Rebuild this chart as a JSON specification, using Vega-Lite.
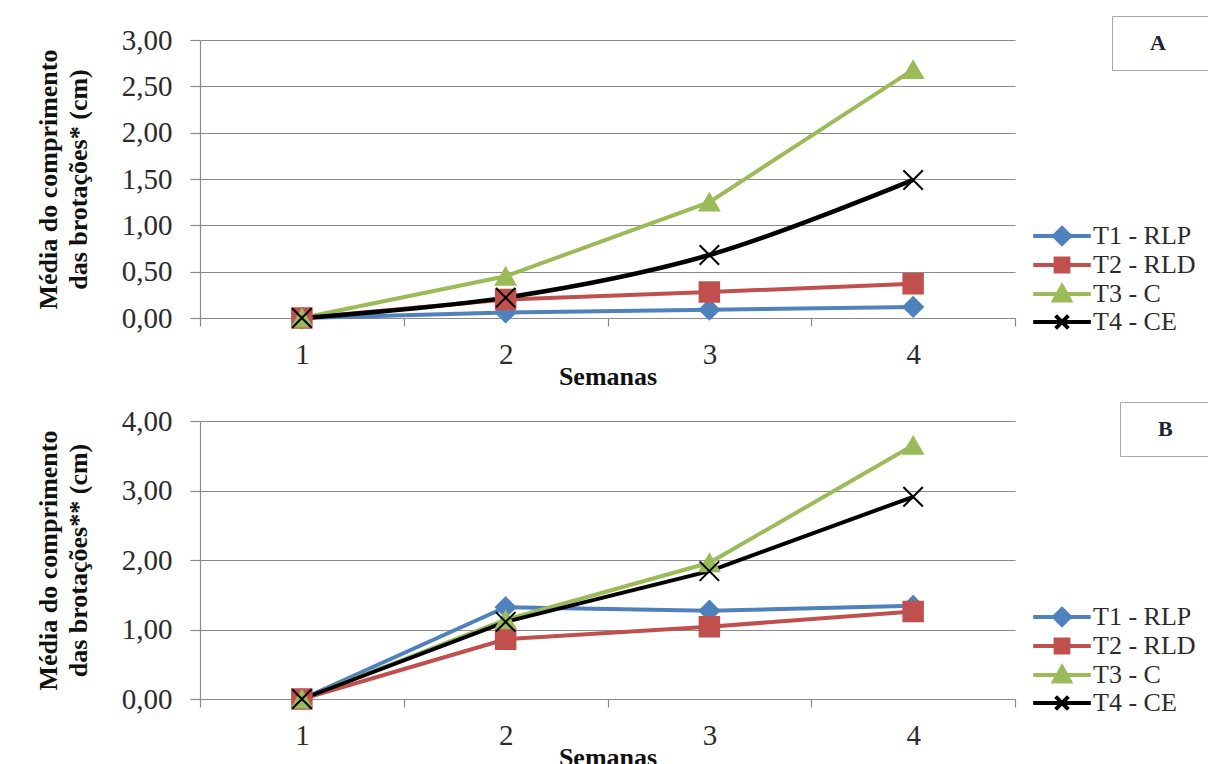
{
  "$schema": "https://vega.github.io/schema/vega-lite/v6.json",
  "background": "white",
  "padding": {"left": 35, "top": 15, "right": 0, "bottom": 0},
  "spacing": 12,
  "datasets": {
    "medias": [
      {"painel": "A", "semana": "1", "serie": "T1 - RLP", "valor": 0},
      {"painel": "A", "semana": "2", "serie": "T1 - RLP", "valor": 0.06},
      {"painel": "A", "semana": "3", "serie": "T1 - RLP", "valor": 0.09},
      {"painel": "A", "semana": "4", "serie": "T1 - RLP", "valor": 0.12},
      {"painel": "A", "semana": "1", "serie": "T2 - RLD", "valor": 0},
      {"painel": "A", "semana": "2", "serie": "T2 - RLD", "valor": 0.20},
      {"painel": "A", "semana": "3", "serie": "T2 - RLD", "valor": 0.28},
      {"painel": "A", "semana": "4", "serie": "T2 - RLD", "valor": 0.37},
      {"painel": "A", "semana": "1", "serie": "T3 - C", "valor": 0},
      {"painel": "A", "semana": "2", "serie": "T3 - C", "valor": 0.45},
      {"painel": "A", "semana": "3", "serie": "T3 - C", "valor": 1.25},
      {"painel": "A", "semana": "4", "serie": "T3 - C", "valor": 2.68},
      {"painel": "A", "semana": "1", "serie": "T4 - CE", "valor": 0},
      {"painel": "A", "semana": "2", "serie": "T4 - CE", "valor": 0.22},
      {"painel": "A", "semana": "3", "serie": "T4 - CE", "valor": 0.68},
      {"painel": "A", "semana": "4", "serie": "T4 - CE", "valor": 1.49},
      {"painel": "B", "semana": "1", "serie": "T1 - RLP", "valor": 0},
      {"painel": "B", "semana": "2", "serie": "T1 - RLP", "valor": 1.32},
      {"painel": "B", "semana": "3", "serie": "T1 - RLP", "valor": 1.27},
      {"painel": "B", "semana": "4", "serie": "T1 - RLP", "valor": 1.34},
      {"painel": "B", "semana": "1", "serie": "T2 - RLD", "valor": 0},
      {"painel": "B", "semana": "2", "serie": "T2 - RLD", "valor": 0.86},
      {"painel": "B", "semana": "3", "serie": "T2 - RLD", "valor": 1.04},
      {"painel": "B", "semana": "4", "serie": "T2 - RLD", "valor": 1.26},
      {"painel": "B", "semana": "1", "serie": "T3 - C", "valor": 0},
      {"painel": "B", "semana": "2", "serie": "T3 - C", "valor": 1.14},
      {"painel": "B", "semana": "3", "serie": "T3 - C", "valor": 1.96},
      {"painel": "B", "semana": "4", "serie": "T3 - C", "valor": 3.65},
      {"painel": "B", "semana": "1", "serie": "T4 - CE", "valor": 0},
      {"painel": "B", "semana": "2", "serie": "T4 - CE", "valor": 1.11},
      {"painel": "B", "semana": "3", "serie": "T4 - CE", "valor": 1.84},
      {"painel": "B", "semana": "4", "serie": "T4 - CE", "valor": 2.91}
    ]
  },
  "config": {
    "font": "Liberation Serif",
    "view": {"stroke": null},
    "style": {
      "guide-label": {"font": "Liberation Serif"},
      "guide-title": {"font": "Liberation Serif"}
    },
    "axis": {
      "labelFont": "Liberation Serif", "labelFontSize": 29, "labelColor": "#2b2b2b",
      "titleFont": "Liberation Serif", "titleFontWeight": "bold", "titleFontSize": 26, "titleColor": "#111",
      "domainColor": "#8a8a8a", "tickColor": "#8a8a8a", "gridColor": "#8a8a8a", "gridWidth": 1.2, "domainWidth": 1.2, "tickWidth": 1.2
    },
    "legend": {
      "orient": "none", "legendX": 849, "legendY": 183,
      "labelFont": "Liberation Serif", "labelFontSize": 26, "labelColor": "#2b2b2b",
      "symbolSize": 256, "labelOffset": 18, "rowPadding": -2, "padding": 0,
      "symbolStrokeWidth": 4, "symbolOpacity": 1, "title": null
    }
  },
  "vconcat": [
    {
      "width": 815, "height": 278,
      "data": {"name": "medias"},
      "transform": [{"filter": "datum.painel === 'A'"}],
      "encoding": {
        "x": {"field": "semana", "type": "ordinal",
          "scale": {"type": "band", "paddingInner": 0, "paddingOuter": 0},
          "axis": {"labelAngle": 0, "tickBand": "extent", "tickSize": 8, "labelPadding": 14, "grid": false, "title": "Semanas", "titlePadding": -6,
            "labelFont": "Liberation Serif", "titleFont": "Liberation Serif"}},
        "y": {"field": "valor", "type": "quantitative",
          "scale": {"domain": [0, 3], "nice": false},
          "axis": {"values": [0, 0.5, 1, 1.5, 2, 2.5, 3], "labelExpr": "replace(format(datum.value, '.2f'), '.', ',')",
            "tickSize": 10, "labelPadding": 18, "grid": true, "titlePadding": 30, "titleLineHeight": 30,
            "labelFont": "Liberation Serif", "titleFont": "Liberation Serif",
            "title": ["Média do comprimento", "das  brotações* (cm)"]}}
      },
      "resolve": {"scale": {"shape": "independent", "fill": "independent", "stroke": "independent", "size": "independent"}},
      "layer": [
        {
          "transform": [{"filter": "datum.serie !== 'T4 - CE'"}],
          "mark": {"type": "line", "strokeWidth": 4},
          "encoding": {"stroke": {"field": "serie", "type": "nominal", "legend": null,
            "scale": {"domain": ["T1 - RLP", "T2 - RLD", "T3 - C", "T4 - CE"], "range": ["#4f81bd", "#c0504d", "#9bbb59", "#000000"]}}}
        },
        {
          "transform": [{"filter": "datum.serie === 'T4 - CE'"}],
          "mark": {"type": "line", "strokeWidth": 4.5, "interpolate": "catmull-rom", "color": "#000000"},
          "encoding": {}
        },
        {
          "mark": {"type": "point", "filled": true, "size": 380, "strokeWidth": 2, "opacity": 1},
          "encoding": {
            "fill": {"field": "serie", "type": "nominal", "legend": null,
              "scale": {"domain": ["T1 - RLP", "T2 - RLD", "T3 - C", "T4 - CE"], "range": ["#4f81bd", "#c0504d", "#9bbb59", "#000000"]}},
            "stroke": {"field": "serie", "type": "nominal", "legend": null,
              "scale": {"domain": ["T1 - RLP", "T2 - RLD", "T3 - C", "T4 - CE"], "range": ["#4f81bd", "#c0504d", "#9bbb59", "#000000"]}},
            "shape": {"field": "serie", "type": "nominal", "legend": null,
              "scale": {"domain": ["T1 - RLP", "T2 - RLD", "T3 - C", "T4 - CE"], "range": ["diamond", "square", "triangle-up", "M-1,-1L1,1M-1,1L1,-1"]}}
          }
        },
        {
          "mark": {"type": "point", "filled": true, "opacity": 0, "strokeWidth": 4},
          "encoding": {
            "fill": {"field": "serie", "type": "nominal",
              "legend": {"labelFont": "Liberation Serif", "symbolOpacity": 1},
              "scale": {"domain": ["T1 - RLP", "T2 - RLD", "T3 - C", "T4 - CE"], "range": ["#4f81bd", "#c0504d", "#9bbb59", "#000000"]}},
            "stroke": {"field": "serie", "type": "nominal",
              "legend": {"labelFont": "Liberation Serif", "symbolOpacity": 1},
              "scale": {"domain": ["T1 - RLP", "T2 - RLD", "T3 - C", "T4 - CE"], "range": ["#4f81bd", "#c0504d", "#9bbb59", "#000000"]}},
            "shape": {"field": "serie", "type": "nominal",
              "legend": {"labelFont": "Liberation Serif", "symbolOpacity": 1},
              "scale": {"domain": ["T1 - RLP", "T2 - RLD", "T3 - C", "T4 - CE"], "range": [
                "M-3.6,0L3.6,0M0,-1L1,0L0,1L-1,0Z",
                "M-3.6,0L3.6,0M-0.8,-0.8L0.8,-0.8L0.8,0.8L-0.8,0.8Z",
                "M-3.6,0L3.6,0M0,-1L1,0.8L-1,0.8Z",
                "M-3.6,0L3.6,0M-0.8,-0.8L0.8,0.8M-0.8,0.8L0.8,-0.8"]}}
          }
        },
        {
          "mark": {"type": "point", "filled": true, "opacity": 0},
          "encoding": {
            "size": {"field": "painel", "type": "nominal", "scale": {"range": [1, 1]},
              "legend": {"orient": "none", "legendX": 912, "legendY": -24, "title": null, "padding": 16,
                "strokeColor": "#a8a8a8", "fillColor": "#ffffff", "symbolOpacity": 0, "symbolStrokeWidth": 0, "labelOffset": 0, "labelLimit": 0,
                "labelFont": "Liberation Serif", "labelFontSize": 22, "labelFontWeight": "bold", "labelColor": "#1c2333", "labelOpacity": 1,
                "labelExpr": "pad('', 6, '\u00a0') + datum.label + pad('', 8, '\u00a0') + '\u200b'"}}
          }
        }
      ]
    },
    {
      "width": 815, "height": 278,
      "data": {"name": "medias"},
      "transform": [{"filter": "datum.painel === 'B'"}],
      "encoding": {
        "x": {"field": "semana", "type": "ordinal",
          "scale": {"type": "band", "paddingInner": 0, "paddingOuter": 0},
          "axis": {"labelAngle": 0, "tickBand": "extent", "tickSize": 8, "labelPadding": 14, "grid": false, "title": "Semanas", "titlePadding": -6,
            "labelFont": "Liberation Serif", "titleFont": "Liberation Serif"}},
        "y": {"field": "valor", "type": "quantitative",
          "scale": {"domain": [0, 4], "nice": false},
          "axis": {"values": [0, 1, 2, 3, 4], "labelExpr": "replace(format(datum.value, '.2f'), '.', ',')",
            "tickSize": 10, "labelPadding": 18, "grid": true, "titlePadding": 30, "titleLineHeight": 30,
            "labelFont": "Liberation Serif", "titleFont": "Liberation Serif",
            "title": ["Média do comprimento", "das  brotações** (cm)"]}}
      },
      "resolve": {"scale": {"shape": "independent", "fill": "independent", "stroke": "independent", "size": "independent"}},
      "layer": [
        {
          "mark": {"type": "line", "strokeWidth": 4},
          "encoding": {"stroke": {"field": "serie", "type": "nominal", "legend": null,
            "scale": {"domain": ["T1 - RLP", "T2 - RLD", "T3 - C", "T4 - CE"], "range": ["#4f81bd", "#c0504d", "#9bbb59", "#000000"]}}}
        },
        {
          "mark": {"type": "point", "filled": true, "size": 380, "strokeWidth": 2, "opacity": 1},
          "encoding": {
            "fill": {"field": "serie", "type": "nominal", "legend": null,
              "scale": {"domain": ["T1 - RLP", "T2 - RLD", "T3 - C", "T4 - CE"], "range": ["#4f81bd", "#c0504d", "#9bbb59", "#000000"]}},
            "stroke": {"field": "serie", "type": "nominal", "legend": null,
              "scale": {"domain": ["T1 - RLP", "T2 - RLD", "T3 - C", "T4 - CE"], "range": ["#4f81bd", "#c0504d", "#9bbb59", "#000000"]}},
            "shape": {"field": "serie", "type": "nominal", "legend": null,
              "scale": {"domain": ["T1 - RLP", "T2 - RLD", "T3 - C", "T4 - CE"], "range": ["diamond", "square", "triangle-up", "M-1,-1L1,1M-1,1L1,-1"]}}
          }
        },
        {
          "mark": {"type": "point", "filled": true, "opacity": 0, "strokeWidth": 4},
          "encoding": {
            "fill": {"field": "serie", "type": "nominal",
              "legend": {"labelFont": "Liberation Serif", "symbolOpacity": 1},
              "scale": {"domain": ["T1 - RLP", "T2 - RLD", "T3 - C", "T4 - CE"], "range": ["#4f81bd", "#c0504d", "#9bbb59", "#000000"]}},
            "stroke": {"field": "serie", "type": "nominal",
              "legend": {"labelFont": "Liberation Serif", "symbolOpacity": 1},
              "scale": {"domain": ["T1 - RLP", "T2 - RLD", "T3 - C", "T4 - CE"], "range": ["#4f81bd", "#c0504d", "#9bbb59", "#000000"]}},
            "shape": {"field": "serie", "type": "nominal",
              "legend": {"labelFont": "Liberation Serif", "symbolOpacity": 1},
              "scale": {"domain": ["T1 - RLP", "T2 - RLD", "T3 - C", "T4 - CE"], "range": [
                "M-3.6,0L3.6,0M0,-1L1,0L0,1L-1,0Z",
                "M-3.6,0L3.6,0M-0.8,-0.8L0.8,-0.8L0.8,0.8L-0.8,0.8Z",
                "M-3.6,0L3.6,0M0,-1L1,0.8L-1,0.8Z",
                "M-3.6,0L3.6,0M-0.8,-0.8L0.8,0.8M-0.8,0.8L0.8,-0.8"]}}
          }
        },
        {
          "mark": {"type": "point", "filled": true, "opacity": 0},
          "encoding": {
            "size": {"field": "painel", "type": "nominal", "scale": {"range": [1, 1]},
              "legend": {"orient": "none", "legendX": 920, "legendY": -19, "title": null, "padding": 16,
                "strokeColor": "#a8a8a8", "fillColor": "#ffffff", "symbolOpacity": 0, "symbolStrokeWidth": 0, "labelOffset": 0, "labelLimit": 0,
                "labelFont": "Liberation Serif", "labelFontSize": 22, "labelFontWeight": "bold", "labelColor": "#1c2333", "labelOpacity": 1,
                "labelExpr": "pad('', 5, '\u00a0') + datum.label + pad('', 6, '\u00a0') + '\u200b'"}}
          }
        }
      ]
    }
  ]
}
